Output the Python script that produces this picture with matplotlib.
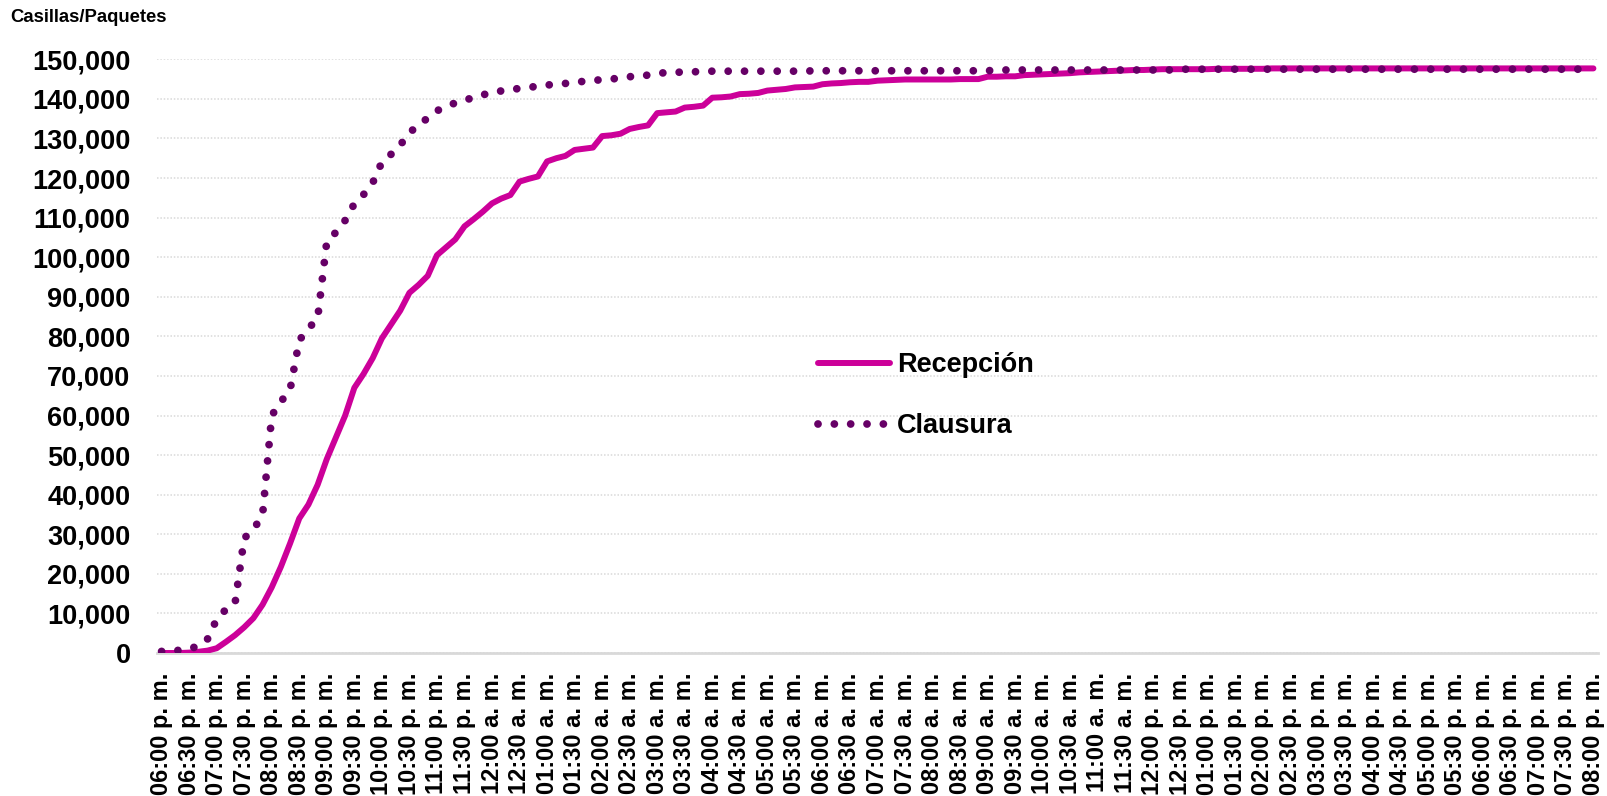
import matplotlib
matplotlib.use("Agg")
import matplotlib.pyplot as plt
from matplotlib.ticker import FuncFormatter

plt.rcParams['font.family'] = ['Liberation Sans', 'DejaVu Sans']

# ---- data (10-minute samples from 06:00 p. m. to 08:00 p. m. next day) ----
recepcion = (
    [0, 0, 0, 100, 300, 600, 1200, 2800, 4500, 6500,
     8800, 12200, 16600, 21800, 27700, 34000, 37500, 42500, 49000, 54500,
     60000, 67000, 70500, 74500, 79500, 83000, 86500, 91000, 93000, 95300,
     100500, 102500, 104500, 107800, 109600, 111500, 113600, 114800, 115700, 119100,
     119800, 120400, 124200, 125000, 125600, 127100, 127400, 127700, 130600, 130800,
     131200, 132400, 132900, 133300, 136400, 136600, 136800, 137800, 138000, 138300,
     140300, 140400, 140600, 141200, 141300, 141500, 142100, 142300, 142500, 142900,
     143000, 143100, 143700, 143900, 144000, 144200, 144300, 144300, 144600, 144700,
     144800]
    + [144900] * 6
    + [145000] * 3
    + [145600, 145600, 145700, 145700, 146000, 146100, 146200, 146300, 146400, 146500,
       146700, 146800, 146900, 147000, 147100, 147200, 147300, 147300, 147400]
    + [147500] * 6
    + [147600] * 6
    + [147700] * 36
)

clausura = (
    [400, 500, 700, 1000, 1800, 3500, 8500, 11000, 12500, 29000,
     31200, 34800, 60000, 63500, 66500, 79000, 82000, 84500, 104000, 106300,
     109300, 113500, 115800, 118800, 124000, 126000, 128300, 131500, 133300, 135200,
     137000, 138000, 139000, 139600, 140400, 141000, 141700, 142000, 142200, 142700,
     142900, 143200, 143500, 143700, 143900, 144300, 144400, 144600, 144900, 145000,
     145300, 145600, 145800, 146000, 146500, 146600, 146700, 146800, 146850, 146900,
     147000]
    + [147000] * 10
    + [147100] * 20
    + [147300] * 20
    + [147500] * 46
)

tick_labels = [
    "06:00 p. m.", "06:30 p. m.", "07:00 p. m.", "07:30 p. m.", "08:00 p. m.", "08:30 p. m.",
    "09:00 p. m.", "09:30 p. m.", "10:00 p. m.", "10:30 p. m.", "11:00 p. m.", "11:30 p. m.",
    "12:00 a. m.", "12:30 a. m.", "01:00 a. m.", "01:30 a. m.", "02:00 a. m.", "02:30 a. m.",
    "03:00 a. m.", "03:30 a. m.", "04:00 a. m.", "04:30 a. m.", "05:00 a. m.", "05:30 a. m.",
    "06:00 a. m.", "06:30 a. m.", "07:00 a. m.", "07:30 a. m.", "08:00 a. m.", "08:30 a. m.",
    "09:00 a. m.", "09:30 a. m.", "10:00 a. m.", "10:30 a. m.", "11:00 a. m.", "11:30 a. m.",
    "12:00 p. m.", "12:30 p. m.", "01:00 p. m.", "01:30 p. m.", "02:00 p. m.", "02:30 p. m.",
    "03:00 p. m.", "03:30 p. m.", "04:00 p. m.", "04:30 p. m.", "05:00 p. m.", "05:30 p. m.",
    "06:00 p. m.", "06:30 p. m.", "07:00 p. m.", "07:30 p. m.", "08:00 p. m.",
]
series_names = ["Recepción", "Clausura"]
y_title = "Casillas/Paquetes"

# ---- figure ----
W, H = 1608, 796
fig = plt.figure(figsize=(W / 100, H / 100), dpi=100)
left, right, top, bottom = 157, 1598, 59.3, 653
ax = fig.add_axes([left / W, 1 - bottom / H, (right - left) / W, (bottom - top) / H])

x = list(range(len(recepcion)))
ax.plot(x, recepcion, color="#CC0099", lw=4.3, solid_capstyle="round",
        solid_joinstyle="round", label=series_names[0], zorder=3)
ax.plot(x, clausura, color="#660066", lw=5.6, linestyle=(0, (0.001, 2.1)),
        dash_capstyle="round", label=series_names[1], zorder=4)

ax.set_xlim(-0.5, len(recepcion) - 0.5)
ax.set_ylim(0, 150000)

for s in ["top", "right", "left"]:
    ax.spines[s].set_visible(False)
ax.spines["bottom"].set_color("#D9D9D9")
ax.spines["bottom"].set_linewidth(2)
ax.spines["bottom"].set_zorder(2)

ax.set_yticks(range(0, 150001, 10000))
ax.yaxis.set_major_formatter(FuncFormatter(lambda v, p: f"{int(v):,}"))
ax.yaxis.grid(True, color="#D9D9D9", linestyle=(0, (1, 1.2)), linewidth=1.1)
ax.set_axisbelow(True)
ax.tick_params(axis="y", length=0, pad=19, labelsize=19.5)
for t in ax.get_yticklabels():
    t.set_fontweight("bold")

ax.set_xticks(range(0, len(recepcion), 3))
ax.set_xticklabels(tick_labels, rotation=90, fontsize=17, fontweight="bold")
ax.tick_params(axis="x", length=0, pad=14)

fig.text(10 / W, 1 - 18 / H, y_title, fontsize=13.3, fontweight="bold",
         ha="left", va="center")

ax.legend(loc="upper left", bbox_to_anchor=(818 / W, 1 - 352 / H),
          bbox_transform=fig.transFigure, frameon=False,
          prop={"weight": "bold", "size": 19.5}, handlelength=2.67,
          handletextpad=0.26, labelspacing=1.3, borderpad=0, borderaxespad=0)

fig.savefig("out.png", dpi=100, facecolor="white")
